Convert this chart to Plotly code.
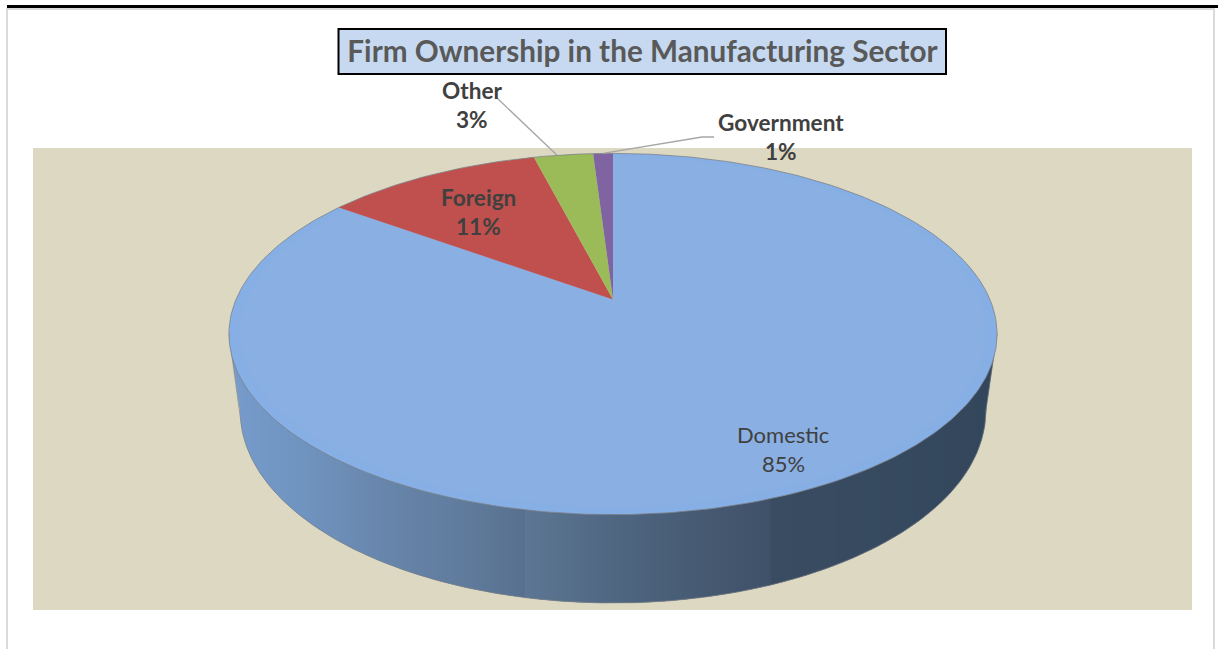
import numpy as np
import plotly.graph_objects as go

# Ownership shares, drawn clockwise from twelve o'clock
categories = ["Domestic", "Foreign", "Other", "Government"]
shares = [85, 11, 3, 1]
slice_colors = ["#8AAFE2", "#C0504D", "#9BBB59", "#8064A2"]

CANVAS_W, CANVAS_H = 1218, 649
APEX_X = 613
TILT = 0.1911            # perspective foreshortening of the disc
TOP_RADIUS_X = 377
TOP_Y0, TOP_RADIUS_Y = 299.5, 116.8
BASE_RADIUS_X = 366
BASE_Y0, BASE_RADIUS_Y = 374.4, 113.4

# Wall shading, keyed on screen x; close pairs of stops give the hard steps in the wall
WALL_STOPS = [(230, "#769CCC"), (300, "#7094C0"), (400, "#6683A8"), (470, "#5F7A9B"),
              (524, "#58708F"), (525, "#5D7693"), (600, "#516984"), (700, "#465A72"),
              (771, "#3F5168"), (772, "#3A4C62"), (900, "#35495F"), (1000, "#33465B")]
RIM_COLOR = "#7C8288"
INK = "#404040"
FONT = "Lato"


def project(theta, scale=1.0, base=False):
    """Map a clockwise angle from twelve o'clock onto the tilted disc."""
    u, v = scale * np.sin(theta), scale * np.cos(theta)
    d = 1 + TILT * v
    if base:
        return APEX_X + BASE_RADIUS_X * u / d, (BASE_Y0 - BASE_RADIUS_Y * v) / d
    return APEX_X + TOP_RADIUS_X * u / d, (TOP_Y0 - TOP_RADIUS_Y * v) / d


def hex_rgb(h):
    return np.array([int(h[i:i + 2], 16) for i in (1, 3, 5)], float)


def wall_color(x):
    xs = [s[0] for s in WALL_STOPS]
    rgb = np.array([hex_rgb(s[1]) for s in WALL_STOPS])
    c = [np.interp(x, xs, rgb[:, i]) for i in range(3)]
    return "rgb(%d,%d,%d)" % tuple(round(float(k)) for k in c)


def patch(xs, ys, color):
    return go.Scatter(x=list(xs), y=list(ys), mode="lines", fill="toself", fillcolor=color,
                      line=dict(color=color, width=0), hoverinfo="skip", showlegend=False)


edges = 2 * np.pi * np.cumsum([0] + shares) / sum(shares)
fig = go.Figure()

# Silhouette of the wall: top-face extreme, down round the base, up to the other extreme
SIDE_R, SIDE_L = np.radians(101), np.radians(259)
base_t = np.linspace(SIDE_L, SIDE_R, 400)
base_x, base_y = project(base_t, base=True)
left_x, left_y = project(SIDE_L)
right_x, right_y = project(SIDE_R)
outline_x = np.r_[left_x, base_x, right_x]
outline_y = np.r_[left_y, base_y, right_y]

# Vertical strips painted left to right, each one overlapping the next so no seams show
WALL_TOP = float(left_y)
strip_edges = np.arange(np.ceil(left_x), np.floor(right_x), 2.0)
strip_edges = np.r_[left_x, strip_edges, right_x]
for x0, x1, x2 in zip(strip_edges[:-2], strip_edges[1:-1], strip_edges[2:]):
    xs = np.linspace(x0, x2, 5)
    ys = np.interp(xs, outline_x, outline_y)
    fig.add_trace(patch(np.r_[xs, x2, x0, x0], np.r_[ys, WALL_TOP, WALL_TOP, ys[0]],
                        wall_color((x0 + x1) / 2)))
last = np.linspace(strip_edges[-2], strip_edges[-1], 3)
fig.add_trace(patch(np.r_[last, last[-1], last[0], last[0]],
                    np.r_[np.interp(last, outline_x, outline_y), WALL_TOP, WALL_TOP,
                          np.interp(last[0], outline_x, outline_y)],
                    wall_color(float(last[1]))))

# Thin outline along the wall's lower and side edges
fig.add_trace(go.Scatter(x=outline_x, y=outline_y, mode="lines",
                         line=dict(color=RIM_COLOR, width=0.7),
                         hoverinfo="skip", showlegend=False))


def wedge(start, end, color, scale=1.0):
    t = np.linspace(start, end, max(8, int((end - start) * 90)))
    x, y = project(t, scale)
    ax, ay = project(np.array([0.0]), 0.0)
    return patch(np.r_[ax, x, ax], np.r_[ay, y, ay], color)


# Top face: the large slice carries a faint lighter bevel near its edge
for scale, shade in [(1.0, "#86AFE6"), (0.985, "#88AFE4"), (0.97, slice_colors[0])]:
    fig.add_trace(wedge(edges[0], edges[1], shade, scale))
for i in range(1, len(shares)):
    fig.add_trace(wedge(edges[i], edges[i + 1], slice_colors[i]))

# Thin outline round the whole top face
rim_x, rim_y = project(np.linspace(0, 2 * np.pi, 400))
fig.add_trace(go.Scatter(x=rim_x, y=rim_y, mode="lines", line=dict(color=RIM_COLOR, width=0.8),
                         hoverinfo="skip", showlegend=False))


def slice_mid(i):
    return (edges[i] + edges[i + 1]) / 2


# Leader lines for the two narrow slices
other_x, other_y = project(slice_mid(2) - 0.02)
gov_x, gov_y = project(slice_mid(3))
fig.add_trace(go.Scatter(x=[497, other_x], y=[98, other_y], mode="lines",
                         line=dict(color="#A6A6A6", width=1.3), hoverinfo="skip", showlegend=False))
fig.add_trace(go.Scatter(x=[714, 702, gov_x], y=[137, 137, gov_y], mode="lines",
                         line=dict(color="#A6A6A6", width=1.3), hoverinfo="skip", showlegend=False))

# Name and share of every slice, two lines each
label_spots = {"Domestic": (783, 434.5, False, 22, 28.5), "Foreign": (478, 197.5, True, 22.6, 28.5),
               "Other": (471.5, 90, True, 22.6, 29), "Government": (781, 122.5, True, 22.6, 29)}
annotations = []
for name, share in zip(categories, shares):
    lx, ly, bold, size, leading = label_spots[name]
    for offset, text in ((0, name), (leading, f"{share}%")):
        annotations.append(dict(x=lx, y=ly + offset, xref="x", yref="y",
                                text=f"<b>{text}</b>" if bold else text,
                                showarrow=False, xanchor="center", yanchor="middle",
                                font=dict(family=FONT, size=size, color=INK)))

# Page frame, plot band and title box
shapes = [
    dict(type="rect", x0=7, x1=1218, y0=5, y1=8, fillcolor="#000000", line_width=0, layer="below"),
    dict(type="rect", x0=7, x1=1215, y0=8, y1=10, fillcolor="#DADADA", line_width=0, layer="below"),
    dict(type="rect", x0=6, x1=8, y0=8, y1=649, fillcolor="#DADADA", line_width=0, layer="below"),
    dict(type="rect", x0=1213, x1=1215, y0=8, y1=649, fillcolor="#DADADA", line_width=0, layer="below"),
    dict(type="rect", x0=33, x1=1192, y0=148, y1=610, fillcolor="#DDD8C2", line_width=0, layer="below"),
    dict(type="rect", x0=338.5, x1=946, y0=29, y1=74, fillcolor="#C6D9F1",
         line=dict(color="#000000", width=2), layer="below"),
]

fig.update_layout(
    width=CANVAS_W, height=CANVAS_H,
    margin=dict(l=0, r=0, t=0, b=0),
    paper_bgcolor="#FFFFFF", plot_bgcolor="#FFFFFF",
    title=dict(text="<b>Firm Ownership in the Manufacturing Sector</b>",
               x=642.5 / CANVAS_W, y=1 - 52 / CANVAS_H, xref="paper", yref="paper",
               xanchor="center", yanchor="middle",
               font=dict(family=FONT, size=29.7, color="#595959")),
    xaxis=dict(range=[0, CANVAS_W], visible=False, fixedrange=True),
    yaxis=dict(range=[CANVAS_H, 0], visible=False, fixedrange=True),
    shapes=shapes, annotations=annotations, showlegend=False, hovermode=False,
)

fig.write_html("out.html", config=dict(displayModeBar=False))
